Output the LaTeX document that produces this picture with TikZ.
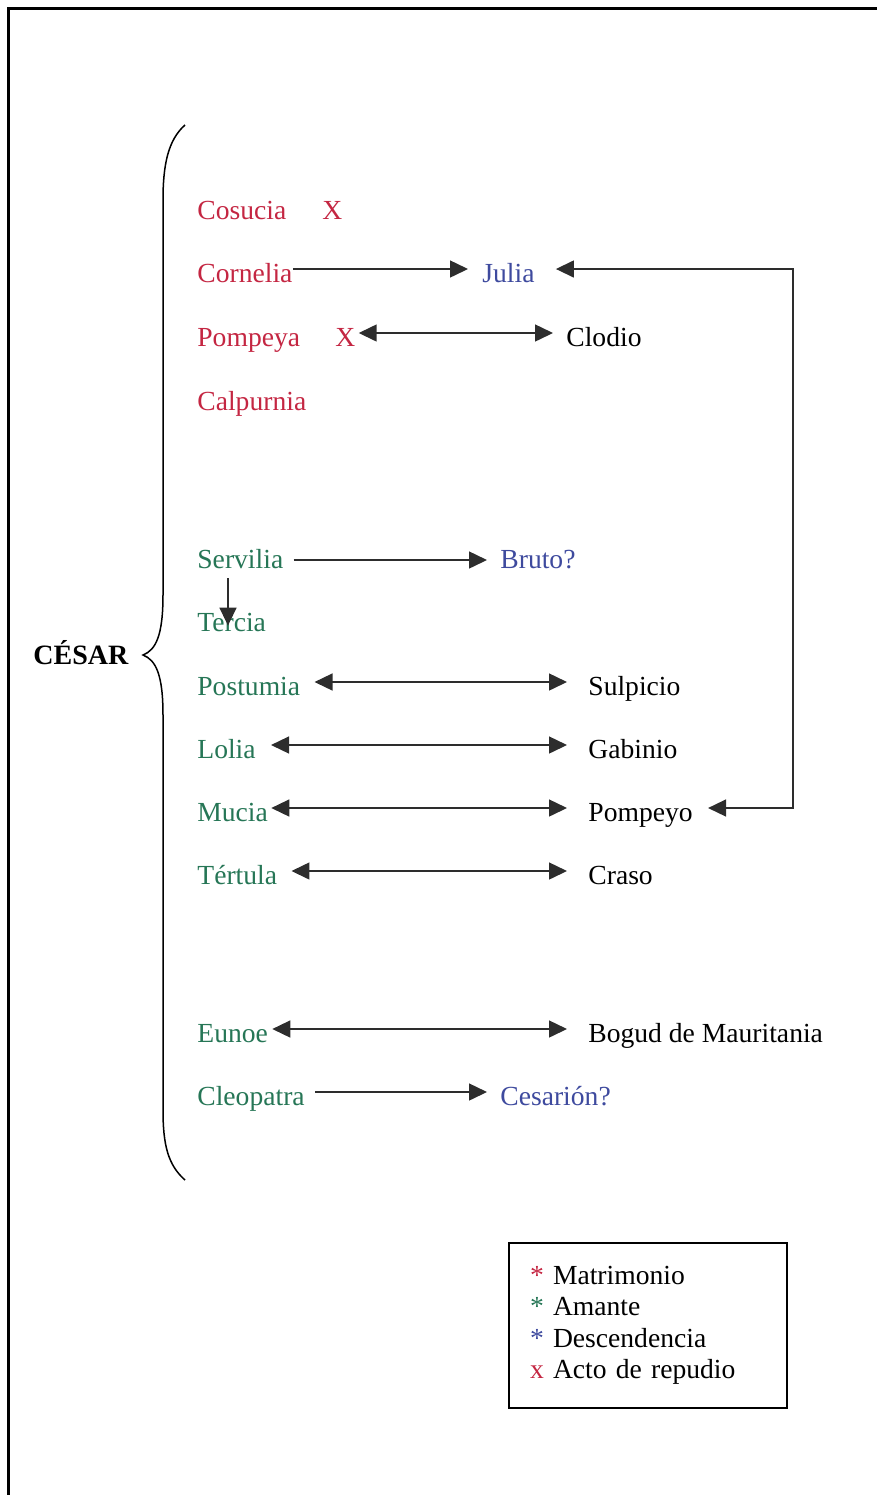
\documentclass[tikz,border=0pt]{standalone}
\usepackage{fontspec}
\setmainfont{Liberation Serif}
\usetikzlibrary{arrows.meta}
\definecolor{rojo}{RGB}{196,38,66}
\definecolor{verde}{RGB}{38,118,86}
\definecolor{azul}{RGB}{62,74,158}
\definecolor{flecha}{RGB}{45,45,45}
\tikzset{
    % Define style for names
    nombre/.style={
           anchor=base west,
           inner sep=0pt,
           text height=13pt,
           text depth=0pt,
           font=\fontsize{13.8}{16}\selectfont},
    % Define arrow styles
    pil/.style={
           -{Triangle[length=9pt,width=8.5pt]},
           draw=flecha,
           line width=0.75pt},
    dbl/.style={
           {Triangle[length=9pt,width=8.5pt]}-{Triangle[length=9pt,width=8.5pt]},
           draw=flecha,
           line width=0.75pt}
}
\newcommand*{\hnode}[4]{\node[nombre,#1] (#2) at (#3) {#4};}

\begin{document}
\begin{tikzpicture}[x=0.5pt,y=-0.5pt]
\useasboundingbox (0,0) rectangle (877,1495);
% Page frame, top and left edge only
\draw[line width=1.5pt] (877,8) -- (8,8) -- (8,1495);

% The big brace and the name in front of it
\draw[line width=0.75pt] (185,125) .. controls (168,140) and (163,165) .. (163,200)
    -- (163,595) .. controls (163,635) and (156,650) .. (143,655)
    .. controls (156,660) and (163,675) .. (163,715)
    -- (163,1110) .. controls (163,1145) and (168,1165) .. (185,1180);
\node[anchor=base west, inner sep=0pt, font=\bfseries\fontsize{14}{16}\selectfont] (cesar) at (33,664) {CÉSAR};

% Wives
\hnode{rojo}{c1L}{197,219}{Cosucia}
\hnode{rojo}{x1X}{322,219}{X}
\hnode{rojo}{c2L}{197,282}{Cornelia}
\hnode{azul}{j2R}{482,282}{Julia}
\hnode{rojo}{p3L}{197,346}{Pompeya}
\hnode{rojo}{x3X}{335,346}{X}
\hnode{black}{c3R}{566,346}{Clodio}
\hnode{rojo}{c4L}{197,410}{Calpurnia}

% Lovers
\hnode{verde}{s5L}{197,568}{Servilia}
\hnode{azul}{b5R}{500,568}{Bruto?}
\hnode{verde}{t6L}{197,631}{Tercia}
\hnode{verde}{p7L}{197,695}{Postumia}
\hnode{black}{s7R}{588,695}{Sulpicio}
\hnode{verde}{l8L}{197,758}{Lolia}
\hnode{black}{g8R}{588,758}{Gabinio}
\hnode{verde}{m9L}{197,821}{Mucia}
\hnode{black}{p9R}{588,821}{Pompeyo}
\hnode{verde}{t10L}{197,884}{Tértula}
\hnode{black}{c10R}{588,884}{Craso}
\hnode{verde}{e11L}{197,1042}{Eunoe}
\hnode{black}{b11R}{588,1042}{Bogud de Mauritania}
\hnode{verde}{c12L}{197,1105}{Cleopatra}
\hnode{azul}{c12R}{500,1105}{Cesarión?}

% Now connect the nodes
\draw[pil, shorten >=7pt] (c2L.east) -- (j2R.west);
\draw[dbl, shorten <=1.5pt, shorten >=6.5pt] (x3X.east) -- (c3R.west);
\draw[pil, shorten <=5pt, shorten >=6.5pt] ([yshift=-2.5pt]s5L.east) -- ([yshift=-2.5pt]b5R.west);
\draw[pil] ([xshift=15.5pt,yshift=-5pt]s5L.south west) -- ([xshift=15.5pt,yshift=-10.5pt]t6L.north west);
\draw[dbl, shorten <=7pt, shorten >=10.5pt] (p7L.east) -- (s7R.west);
\draw[dbl, shorten <=7.5pt, shorten >=10.5pt] (l8L.east) -- (g8R.west);
\draw[dbl, shorten <=1.5pt, shorten >=10.5pt] (m9L.east) -- (p9R.west);
\draw[dbl, shorten <=7pt, shorten >=10.5pt] (t10L.east) -- (c10R.west);
\draw[dbl, shorten <=2pt, shorten >=10.5pt] (e11L.east) -- (b11R.west);
\draw[pil, shorten <=5pt, shorten >=6.5pt] (c12L.east) -- (c12R.west);

% Julia and Pompeyo, round the right side
\coordinate (giro) at (793,0);
\draw[dbl, shorten <=10.5pt, shorten >=7.5pt] (j2R.east) -- (j2R.east -| giro) -- (p9R.east -| giro) -- (p9R.east);

% Legend
\node[draw, line width=0.8pt, align=left, text width=118pt, minimum width=139pt, minimum height=82.5pt,
      inner xsep=10.5pt, font=\fontsize{13.8}{15.75}\selectfont] (leyenda) at (648,1325.5)
    {{\color{rojo}*} Matrimonio\\
     {\color{verde}*} Amante\\
     {\color{azul}*} Descendencia\\
     {\color{rojo}x} Acto de repudio};
\end{tikzpicture}
\end{document}
